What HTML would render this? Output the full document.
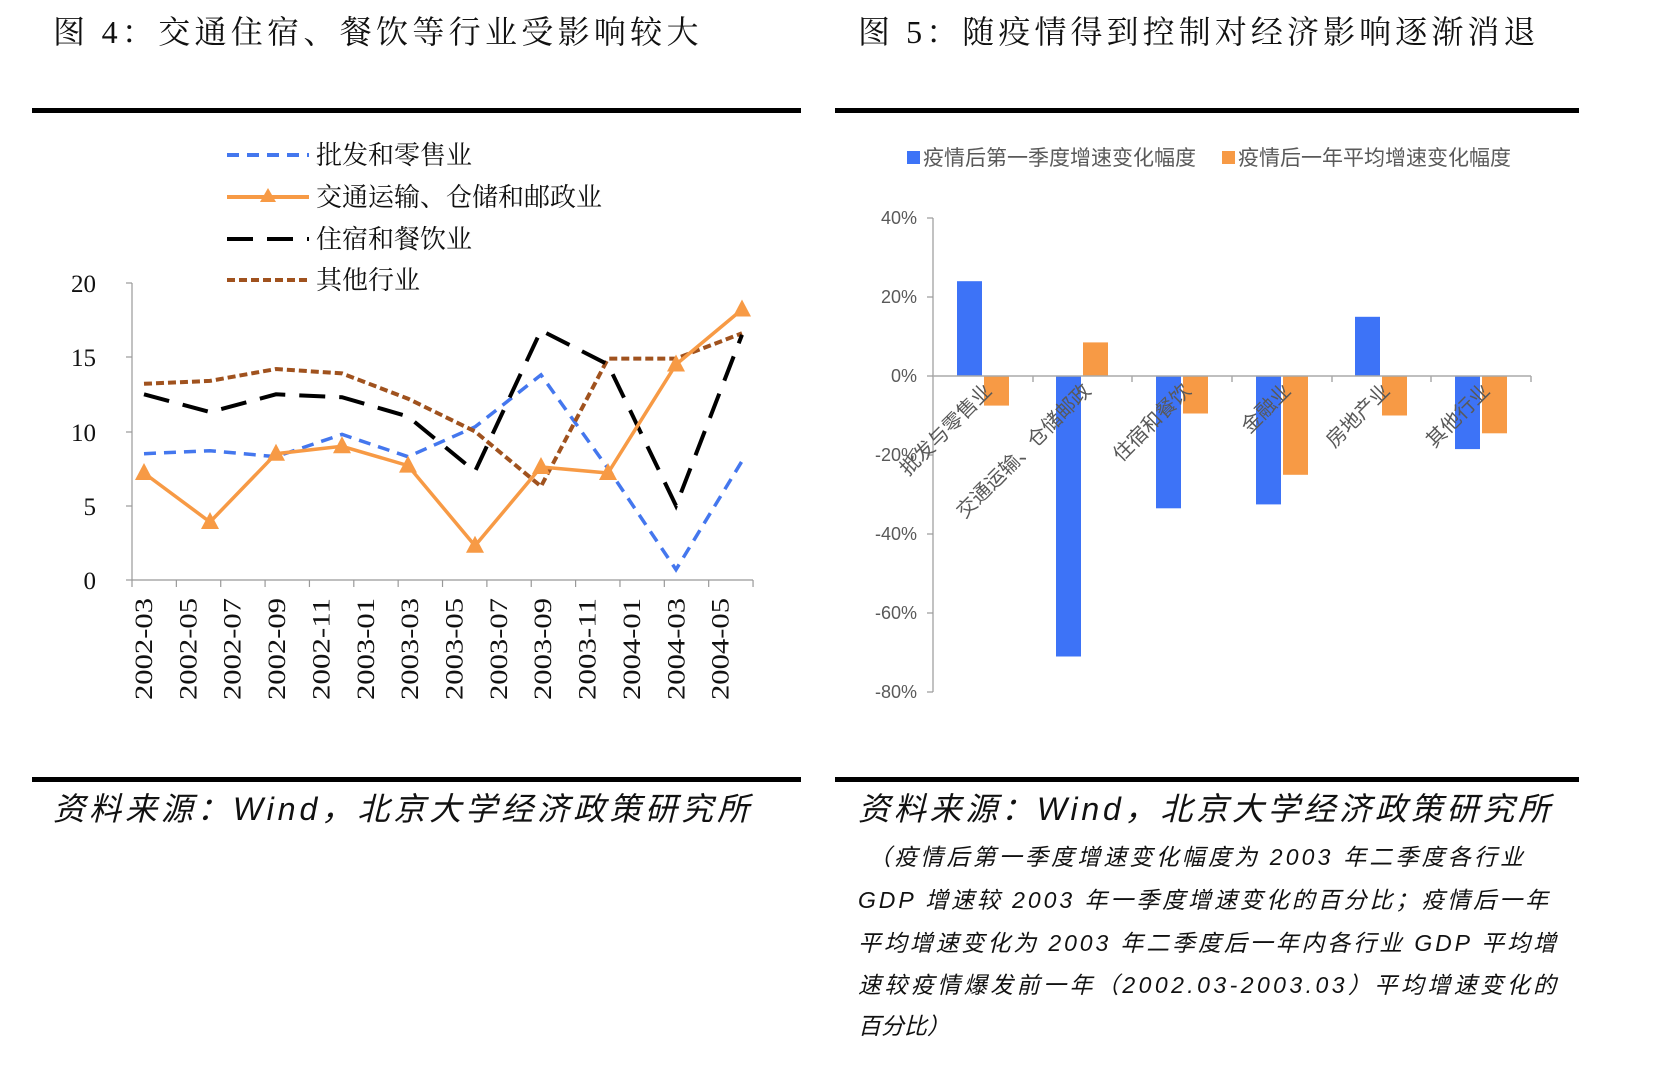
<!DOCTYPE html>
<html><head><meta charset="utf-8"><style>
html,body{margin:0;padding:0;background:#fff;}
svg{display:block;}
.t{font-family:"Liberation Serif","Noto Serif CJK SC",serif;font-size:32px;fill:#111;letter-spacing:4.5px;}
.lg{font-family:"Liberation Serif","Noto Serif CJK SC",serif;font-size:26px;fill:#111;}
.ax{font-family:"Liberation Serif","Noto Serif CJK SC",serif;font-size:25px;fill:#111;}
.src{font-family:"Liberation Sans","Noto Sans CJK SC",sans-serif;font-size:32px;font-style:italic;fill:#111;}
.note{font-family:"Liberation Sans","Noto Sans CJK SC",sans-serif;font-size:23px;font-style:italic;fill:#111;}
.g{font-family:"Liberation Sans","Noto Sans CJK SC",sans-serif;fill:#595959;}
</style></head><body>
<svg width="1660" height="1068" viewBox="0 0 1660 1068" xmlns="http://www.w3.org/2000/svg">
<text class="t" x="53" y="43" textLength="650" lengthAdjust="spacing">图 4：交通住宿、餐饮等行业受影响较大</text>
<rect x="32" y="108" width="769" height="5" fill="#000"/>
<line x1="227" y1="155" x2="309" y2="155" stroke="#4477EE" stroke-width="4" stroke-dasharray="12,8"/>
<text class="lg" x="316" y="164">批发和零售业</text>
<line x1="227" y1="197" x2="309" y2="197" stroke="#F79A45" stroke-width="4"/>
<polygon points="268,188 260,202 276,202" fill="#F79A45"/>
<text class="lg" x="316" y="206">交通运输、仓储和邮政业</text>
<line x1="227" y1="239" x2="309" y2="239" stroke="#000" stroke-width="4" stroke-dasharray="26,14"/>
<text class="lg" x="316" y="248">住宿和餐饮业</text>
<line x1="227" y1="280" x2="309" y2="280" stroke="#A0521E" stroke-width="4" stroke-dasharray="8,4"/>
<text class="lg" x="316" y="289">其他行业</text>
<g stroke="#999" stroke-width="1.2">
<line x1="132" y1="283" x2="132" y2="580"/>
<line x1="132" y1="580" x2="753" y2="580"/>
<line x1="126" y1="283" x2="132" y2="283"/><line x1="126" y1="357" x2="132" y2="357"/><line x1="126" y1="432" x2="132" y2="432"/><line x1="126" y1="506" x2="132" y2="506"/><line x1="126" y1="580" x2="132" y2="580"/>
</g>
<g stroke="#999" stroke-width="1.2" id="xt"></g>
<g class="ax" text-anchor="end">
<text x="96" y="292">20</text><text x="96" y="366">15</text><text x="96" y="441">10</text><text x="96" y="515">5</text><text x="96" y="589">0</text>
</g>
<g class="ax" id="xl"></g>
<polyline fill="none" stroke="#4477EE" stroke-width="3.5" stroke-dasharray="12,8" points="144,453.7 210,450.7 276,456.7 342,434.4 408,456.7 475,426.9 541,374.9 608,468.5 676,569.6 742,461.1"/>
<polyline fill="none" stroke="#A0521E" stroke-width="4" stroke-dasharray="8,4" points="144,383.8 210,380.9 276,369 342,373.4 408,398.7 475,431.4 541,486.4 608,358.6 676,358.6 742,333.3"/>
<polyline fill="none" stroke="#000" stroke-width="4" stroke-dasharray="26,14" points="144,394.3 210,412.1 276,394.3 342,397.2 408,416.5 475,471.5 541,330.4 608,364.5 676,505.7 742,334.8"/>
<polyline fill="none" stroke="#F79A45" stroke-width="3.5" points="144,473 210,522 276,453.7 342,446.3 408,465.6 475,545.8 541,467 608,473 676,364.5 742,309.5"/>
<g fill="#F79A45" id="tri"></g>

<text class="t" x="858" y="43" textLength="682" lengthAdjust="spacing">图 5：随疫情得到控制对经济影响逐渐消退</text>
<rect x="835" y="108" width="744" height="5" fill="#000"/>
<g transform="translate(-4,0)">
<rect x="911" y="151" width="13" height="13" fill="#3D73F7"/>
<text class="g" x="927" y="165" font-size="21">疫情后第一季度增速变化幅度</text>
<rect x="1226" y="151" width="13" height="13" fill="#F79A45"/>
<text class="g" x="1242" y="165" font-size="21">疫情后一年平均增速变化幅度</text>
<g class="g" font-size="18" text-anchor="end">
<text x="921" y="224">40%</text><text x="921" y="303">20%</text><text x="921" y="382">0%</text><text x="921" y="461">-20%</text><text x="921" y="540">-40%</text><text x="921" y="619">-60%</text><text x="921" y="698">-80%</text>
</g>
<g stroke="#999" stroke-width="1.2">
<line x1="937" y1="218" x2="937" y2="692"/>
<line x1="931" y1="218" x2="937" y2="218"/><line x1="931" y1="297" x2="937" y2="297"/><line x1="931" y1="376" x2="937" y2="376"/><line x1="931" y1="455" x2="937" y2="455"/><line x1="931" y1="534" x2="937" y2="534"/><line x1="931" y1="613" x2="937" y2="613"/><line x1="931" y1="692" x2="937" y2="692"/>
</g>
<g>
<rect x="961" y="281.2" width="25" height="94.8" fill="#3D73F7"/>
<rect x="988" y="376" width="25" height="29.6" fill="#F79A45"/>
<rect x="1060" y="376" width="25" height="280.5" fill="#3D73F7"/>
<rect x="1087" y="342.4" width="25" height="33.6" fill="#F79A45"/>
<rect x="1160" y="376" width="25" height="132.3" fill="#3D73F7"/>
<rect x="1187" y="376" width="25" height="37.5" fill="#F79A45"/>
<rect x="1260" y="376" width="25" height="128.4" fill="#3D73F7"/>
<rect x="1287" y="376" width="25" height="98.8" fill="#F79A45"/>
<rect x="1359" y="316.8" width="25" height="59.2" fill="#3D73F7"/>
<rect x="1386" y="376" width="25" height="39.5" fill="#F79A45"/>
<rect x="1459" y="376" width="25" height="73.1" fill="#3D73F7"/>
<rect x="1486" y="376" width="25" height="57.3" fill="#F79A45"/>
</g>
<g stroke="#aaa" stroke-width="1.5">
<line x1="937" y1="376" x2="1535" y2="376"/>
<line x1="1037" y1="376" x2="1037" y2="382"/><line x1="1136" y1="376" x2="1136" y2="382"/><line x1="1236" y1="376" x2="1236" y2="382"/><line x1="1336" y1="376" x2="1336" y2="382"/><line x1="1435" y1="376" x2="1435" y2="382"/><line x1="1535" y1="376" x2="1535" y2="382"/>
</g>
<g class="g" font-size="20" text-anchor="end">
<text transform="translate(997,392) rotate(-45)">批发与零售业</text>
<text transform="translate(1096,392) rotate(-45)">交通运输、仓储邮政</text>
<text transform="translate(1196,392) rotate(-45)">住宿和餐饮</text>
<text transform="translate(1296,392) rotate(-45)">金融业</text>
<text transform="translate(1395,392) rotate(-45)">房地产业</text>
<text transform="translate(1495,392) rotate(-45)">其他行业</text>
</g>
</g>

<rect x="32" y="777" width="769" height="5" fill="#000"/>
<rect x="835" y="777" width="744" height="5" fill="#000"/>
<text class="src" x="53" y="820" textLength="696" lengthAdjust="spacing">资料来源：Wind，北京大学经济政策研究所</text>
<text class="src" x="858" y="820" textLength="692" lengthAdjust="spacing">资料来源：Wind，北京大学经济政策研究所</text>
<g class="note">
<text x="868" y="865" textLength="655" lengthAdjust="spacing">（疫情后第一季度增速变化幅度为 2003 年二季度各行业</text>
<text x="858" y="908" textLength="690" lengthAdjust="spacing">GDP 增速较 2003 年一季度增速变化的百分比；疫情后一年</text>
<text x="858" y="951" textLength="698" lengthAdjust="spacing">平均增速变化为 2003 年二季度后一年内各行业 GDP 平均增</text>
<text x="858" y="993" textLength="698" lengthAdjust="spacing">速较疫情爆发前一年（2002.03-2003.03）平均增速变化的</text>
<text x="858" y="1034">百分比）</text>
</g>
</svg>
<script>
var ns="http://www.w3.org/2000/svg";
var xt=document.getElementById("xt"),xl=document.getElementById("xl"),tri=document.getElementById("tri");
var labs=["2002-03","2002-05","2002-07","2002-09","2002-11","2003-01","2003-03","2003-05","2003-07","2003-09","2003-11","2004-01","2004-03","2004-05"];
for(var i=0;i<=14;i++){var x=132+i*44.36;var l=document.createElementNS(ns,"line");l.setAttribute("x1",x);l.setAttribute("x2",x);l.setAttribute("y1",580);l.setAttribute("y2",587);xt.appendChild(l);}
for(var i=0;i<14;i++){var x=144+i*44.36+8;var t=document.createElementNS(ns,"text");t.setAttribute("transform","translate("+x+",598) rotate(-90)");t.setAttribute("text-anchor","end");t.setAttribute("textLength","102");t.setAttribute("lengthAdjust","spacingAndGlyphs");t.textContent=labs[i];xl.appendChild(t);}
var pts=[[144,473],[210,522],[276,453.7],[342,446.3],[408,465.6],[475,545.8],[541,467],[608,473],[676,364.5],[742,309.5]];
pts.forEach(function(p){var g=document.createElementNS(ns,"polygon");g.setAttribute("points",p[0]+","+(p[1]-10)+" "+(p[0]-9)+","+(p[1]+7)+" "+(p[0]+9)+","+(p[1]+7));tri.appendChild(g);});
</script>
</body></html>
